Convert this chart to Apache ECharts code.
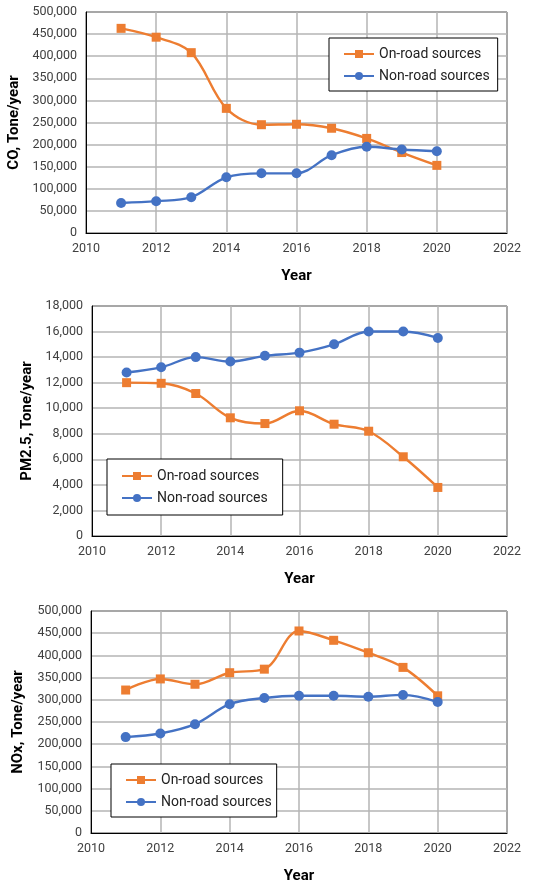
<!DOCTYPE html>
<html lang="en" style="height: 100%">
<head>
  <meta charset="UTF-8">
  <title>Emissions by source</title>
</head>
<body style="height: 100%; margin: 0; background: #fff">
<div id="container" style="width: 535px; height: 884px"></div>
<script type="text/javascript" src="https://cdn.jsdelivr.net/npm/echarts@6/dist/echarts.min.js"></script>
<script type="text/javascript">
  var years = [2011, 2012, 2013, 2014, 2015, 2016, 2017, 2018, 2019, 2020];

  var coOnRoad = [463000, 443000, 408000, 282000, 245000, 246000, 237000, 214000, 182000, 153000];
  var coNonRoad = [68000, 72000, 81000, 126000, 135000, 135000, 176000, 195000, 189000, 185000];

  var pmOnRoad = [12000, 11950, 11150, 9250, 8800, 9800, 8750, 8200, 6200, 3800];
  var pmNonRoad = [12800, 13200, 14000, 13650, 14100, 14350, 15000, 16000, 16000, 15500];

  var noxOnRoad = [322000, 347000, 335000, 361000, 369000, 455000, 434000, 406000, 373000, 309000];
  var noxNonRoad = [216000, 224000, 245000, 290000, 304000, 309000, 309000, 307000, 311000, 295000];

  var yNames = ['CO, Tone/year', 'PM2.5, Tone/year', 'NOx, Tone/year'];
  var yMax = [500000, 18000, 500000];
  var yStep = [50000, 2000, 50000];

  var ORANGE = '#ED7D31';
  var BLUE = '#4472C4';
  var GRID = '#b4b4b4';
  var FONT = 'Roboto';

  function pairs(vals) {
    return years.map(function (y, i) { return [y, vals[i]]; });
  }

  var grids = [
    { left: 86, top: 12, width: 421, height: 221 },
    { left: 92, top: 306, width: 415, height: 230 },
    { left: 91, top: 611, width: 416, height: 222 }
  ];
  // legend box placement and padding per panel
  var legendPos = [
    { left: 329, top: 38, padding: [9, 8, 8, 14] },
    { left: 107, top: 459, padding: [10, 15, 10, 14] },
    { left: 111, top: 764, padding: [9, 5, 8, 14] }
  ];
  var nameGaps = [64, 57, 65];

  var dom = document.getElementById('container');
  var myChart = echarts.init(dom, null, { renderer: 'canvas' });

  var option = {
    animation: false,
    textStyle: { fontFamily: FONT },
    grid: grids.map(function (g) {
      return Object.assign({
        show: true, borderColor: '#000', borderWidth: 1, backgroundColor: '#fff',
        containLabel: false, outerBoundsMode: 'none'
      }, g);
    }),
    xAxis: grids.map(function (g, i) {
      return {
        type: 'value', gridIndex: i, min: 2010, max: 2022, interval: 2,
        name: 'Year', nameLocation: 'middle', nameGap: 36,
        nameTextStyle: { fontSize: 15, fontWeight: 'bold', color: '#000', fontFamily: FONT },
        axisLine: { show: true, lineStyle: { color: '#000', width: 1 } },
        axisTick: { show: false },
        axisLabel: { fontSize: 12.5, color: '#404040', margin: 9, formatter: function (v) { return String(v); } },
        splitLine: { show: true, lineStyle: { color: GRID, width: 1.5 } }
      };
    }),
    yAxis: grids.map(function (g, i) {
      return {
        type: 'value', gridIndex: i, min: 0, max: yMax[i], interval: yStep[i],
        name: yNames[i], nameLocation: 'middle', nameGap: nameGaps[i], nameRotate: 90,
        nameTextStyle: { fontSize: 15, fontWeight: 'bold', color: '#000', fontFamily: FONT },
        axisLine: { show: true, lineStyle: { color: '#000', width: 1 } },
        axisTick: { show: false },
        axisLabel: { fontSize: 12.5, color: '#404040', margin: 9, formatter: function (v) { return v.toLocaleString('en-US'); } },
        splitLine: { show: true, lineStyle: { color: GRID, width: 1.5 } }
      };
    }),
    legend: legendPos.map(function (p) {
      return {
        left: p.left, top: p.top, orient: 'vertical',
        data: ['On-road sources', 'Non-road sources'],
        backgroundColor: '#fff', borderColor: '#000', borderWidth: 1,
        padding: p.padding, itemGap: 8, itemWidth: 30, itemHeight: 10,
        textStyle: { fontSize: 14, color: '#222', fontFamily: FONT },
        selectedMode: false
      };
    }),
    series: []
  };

  var sets = [[coOnRoad, coNonRoad], [pmOnRoad, pmNonRoad], [noxOnRoad, noxNonRoad]];
  sets.forEach(function (s, i) {
    option.series.push({
      name: 'On-road sources', type: 'line', xAxisIndex: i, yAxisIndex: i,
      data: pairs(s[0]), smooth: 0.35, symbol: 'rect', symbolSize: 9,
      itemStyle: { color: ORANGE }, lineStyle: { color: ORANGE, width: 2.4 }, z: 3
    });
    option.series.push({
      name: 'Non-road sources', type: 'line', xAxisIndex: i, yAxisIndex: i,
      data: pairs(s[1]), smooth: 0.35, symbol: 'circle', symbolSize: 10,
      itemStyle: { color: BLUE }, lineStyle: { color: BLUE, width: 2.4 }, z: 4
    });
  });

  myChart.setOption(option);
  window.addEventListener('resize', myChart.resize);
</script>
</body>
</html>
